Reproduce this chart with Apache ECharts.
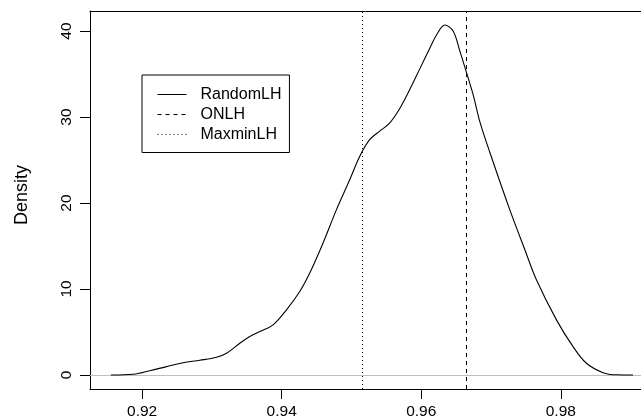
<!DOCTYPE html>
<html>
<head>
<meta charset="utf-8">
<script src="https://cdn.jsdelivr.net/npm/echarts@6/dist/echarts.min.js"></script>
<style>html,body{margin:0;padding:0;background:#fff}#c{width:641px;height:419px}</style>
</head>
<body>
<div id="c"></div>
<script>
// density estimate of RandomLH (x, density)
const densX = [0.91552,0.91871,0.92110,0.92350,0.92587,0.92827,0.93066,0.93209,0.93400,0.93543,0.93686,0.93877,0.94069,0.94259,0.94402,0.94593,0.94785,0.94976,0.95119,0.95263,0.95405,0.95549,0.95692,0.95835,0.95979,0.96122,0.96222,0.96337,0.96456,0.96552,0.96648,0.96743,0.96838,0.96982,0.97268,0.97483,0.97650,0.97937,0.98175,0.98367,0.98605,0.98797,0.99034];
const densY = [0,0.08,0.5,0.97,1.43,1.71,2.06,2.53,3.69,4.47,5.05,5.83,7.58,9.71,11.85,15.35,19.23,22.73,25.44,27.39,28.36,29.33,31.0,33.2,35.6,38.0,39.6,40.7,40.0,37.7,35.16,32.6,29.5,25.9,19.23,14.6,11.07,6.41,3.3,1.36,0.27,0.02,0];
const onlhValue = 0.96645;
const maxminValue = 0.95152;
const xTicks = [0.92, 0.94, 0.96, 0.98];
const yTicks = [0, 10, 20, 30, 40];
const seriesNames = ['RandomLH', 'ONLH', 'MaxminLH'];
const xMin = 0.91253, xMax = 0.99335, yMin = -1.63, yMax = 42.33;

const font = 'Liberation Sans, Arial, Helvetica, sans-serif';
const chart = echarts.init(document.getElementById('c'), null, {renderer: 'canvas'});
const noSym = {color: 'rgba(0,0,0,0)', borderWidth: 0};
const option = {
  animation: false,
  backgroundColor: '#fff',
  textStyle: {fontFamily: font, color: '#000'},
  grid: {left: 90, width: 564, top: 11, bottom: 30, containLabel: false, outerBoundsMode: 'none'},
  legend: {
    orient: 'vertical', left: 142, top: 75,
    data: seriesNames,
    itemWidth: 29, itemHeight: 16, itemGap: 4,
    padding: [11.5, 8, 10, 15],
    borderColor: '#000', borderWidth: 1, backgroundColor: '#fff',
    itemStyle: {opacity: 0},
    lineStyle: {width: 1},
    textStyle: {fontSize: 16, color: '#000', fontFamily: font, padding: [0, 0, 0, 9]},
    selectedMode: false
  },
  xAxis: [{
    type: 'value', min: xMin, max: xMax, position: 'bottom',
    axisLine: {show: true, onZero: false, lineStyle: {color: '#000', width: 1}},
    axisTick: {show: true, length: 10, customValues: xTicks, lineStyle: {color: '#000'}},
    axisLabel: {show: true, customValues: xTicks, fontSize: 15.5, color: '#000', margin: 15, fontFamily: font,
      formatter: v => v.toFixed(2)},
    splitLine: {show: false}
  }, {
    type: 'value', min: xMin, max: xMax, position: 'top',
    axisLine: {show: true, onZero: false, lineStyle: {color: '#000', width: 1}},
    axisTick: {show: false}, axisLabel: {show: false}, splitLine: {show: false}
  }],
  yAxis: {
    type: 'value', min: yMin, max: yMax,
    name: 'Density', nameLocation: 'middle', nameRotate: 90, nameGap: 59,
    nameTextStyle: {fontSize: 18, color: '#000', fontFamily: font, padding: [0, 0, 0, 10]},
    axisLine: {show: true, onZero: false, lineStyle: {color: '#000', width: 1}},
    axisTick: {show: true, length: 10, customValues: yTicks, lineStyle: {color: '#000'}},
    axisLabel: {show: true, customValues: yTicks, rotate: 90, fontSize: 15.5, color: '#000', margin: 15, fontFamily: font},
    splitLine: {show: false}
  },
  series: [
    {
      name: 'RandomLH', type: 'line', xAxisIndex: 0,
      data: densX.map((x, i) => [x, densY[i]]),
      smooth: 0.35, symbol: 'none', showSymbol: false,
      lineStyle: {color: '#000', width: 1.1, type: 'solid'},
      itemStyle: noSym,
      z: 5,
      markLine: {
        silent: true, symbol: 'none', label: {show: false}, precision: 6,
        lineStyle: {color: '#bebebe', width: 1, type: 'solid'},
        data: [{yAxis: 0}]
      }
    },
    {
      name: 'ONLH', type: 'line', xAxisIndex: 0, data: [],
      symbol: 'none', showSymbol: false,
      lineStyle: {color: '#000', width: 1, type: [4, 4]},
      itemStyle: noSym,
      markLine: {
        silent: true, symbol: 'none', label: {show: false}, precision: 6,
        lineStyle: {color: '#000', width: 1, type: [4, 4]},
        data: [{xAxis: onlhValue}]
      }
    },
    {
      name: 'MaxminLH', type: 'line', xAxisIndex: 0, data: [],
      symbol: 'none', showSymbol: false,
      lineStyle: {color: '#000', width: 1, type: [1, 3]},
      itemStyle: noSym,
      markLine: {
        silent: true, symbol: 'none', label: {show: false}, precision: 6,
        lineStyle: {color: '#000', width: 1, type: [1, 3]},
        data: [{xAxis: maxminValue}]
      }
    }
  ]
};
chart.setOption(option);
</script>
</body>
</html>
